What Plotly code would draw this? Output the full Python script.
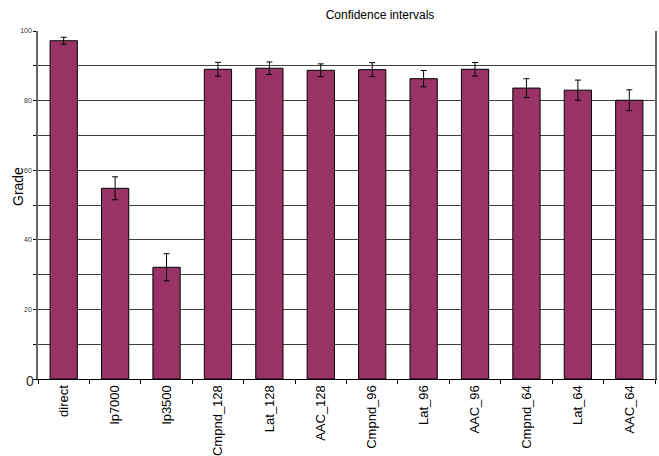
import plotly.graph_objects as go

categories = ["direct", "lp7000", "lp3500", "Cmpnd_128", "Lat_128", "AAC_128",
              "Cmpnd_96", "Lat_96", "AAC_96", "Cmpnd_64", "Lat_64", "AAC_64"]
grades = [97.2, 54.8, 32.1, 89.0, 89.3, 88.7, 88.9, 86.3, 89.0, 83.6, 83.0, 80.1]
errors = [1.0, 3.3, 3.9, 2.0, 1.8, 1.85, 2.0, 2.35, 1.95, 2.7, 2.9, 3.0]
ytick_vals = [0, 10, 20, 30, 40, 50, 60, 70, 80, 90, 100]
ytick_text = ["", "", "20", "", "40", "", "60", "", "80", "", "100"]

fig = go.Figure()
fig.add_trace(go.Bar(
    x=categories, y=grades,
    marker=dict(color="#993366", line=dict(color="#000000", width=1)),
    error_y=dict(type="data", array=errors, visible=True, color="#000000",
                 thickness=1, width=3),
    width=0.53,
))

fig.update_layout(
    width=659, height=456,
    margin=dict(l=38, r=4, t=31, b=77),
    paper_bgcolor="white", plot_bgcolor="white",
    font=dict(family="Liberation Sans, Arial, sans-serif", color="#000000"),
    showlegend=False,
    title=dict(text="Confidence intervals", x=380/659, xanchor="center",
               y=1 - 15/456, yanchor="middle", font=dict(size=12)),
    xaxis=dict(
        type="category", tickangle=-90, tickfont=dict(size=13),
        tickson="boundaries", ticks="outside", ticklen=4, tickcolor="#000000",
        showline=True, linecolor="#000000", linewidth=1,
        showgrid=False, mirror=False, automargin=False,
    ),
    yaxis=dict(
        range=[0, 100], tickvals=ytick_vals, ticktext=ytick_text,
        tickfont=dict(size=7, color="#333333"),
        ticks="outside", ticklen=3, tickcolor="#000000",
        showline=True, linecolor="#666666", linewidth=1.5, mirror=True,
        showgrid=True, gridcolor="#404040", gridwidth=1,
        zeroline=False, automargin=False,
    ),
)

fig.add_annotation(text="Grade", x=-20/617, xref="paper", xanchor="center",
                   y=(379 - 187) / 348, yref="paper", yanchor="middle",
                   textangle=-90, showarrow=False,
                   font=dict(size=14, color="#000000"))

fig.add_annotation(text="0", x=0, xref="paper", xanchor="right",
                   y=0, yref="y", yanchor="middle", xshift=-2, yshift=-2,
                   showarrow=False, font=dict(size=14, color="#333333"))

fig.write_html("out.html")
